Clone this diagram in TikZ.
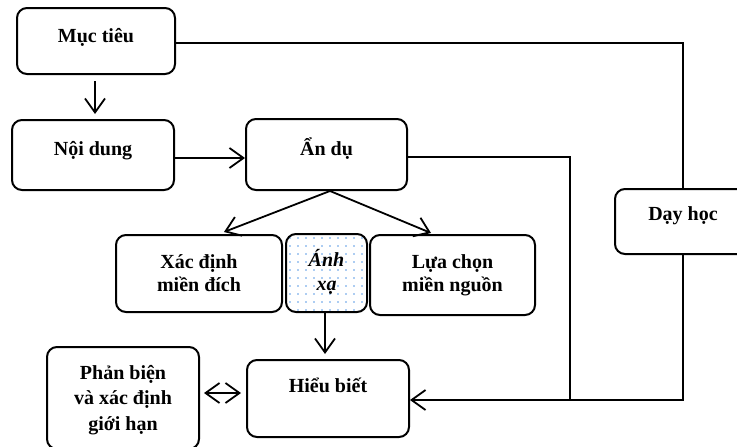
\documentclass[tikz,border=0pt]{standalone}
\usepackage{fontspec}
\setmainfont{Liberation Serif}
\usetikzlibrary{arrows.meta}
\definecolor{dotblue}{RGB}{90,155,230}
\tikzset{
  box/.style={draw=black, line width=2pt, rounded corners=10pt, fill=white, inner sep=0pt},
  lbl/.style={anchor=base, inner sep=0pt, font=\fontsize{20}{24}\selectfont\bfseries},
  conn/.style={draw=black, line width=1.8pt},
  barb/.tip={Straight Barb[length=14pt,width=20pt,line width=1.8pt]},
  arr/.style={conn, -barb},
  darr/.style={conn, barb-barb}
}
\begin{document}
\begin{tikzpicture}[x=1pt,y=-1pt]
\useasboundingbox (0,0) rectangle (737,447);
\fill[white] (0,0) rectangle (737,447);
\clip (0,0) rectangle (737,447);

% boxes
\node[box, minimum width=158pt, minimum height=66pt] (muctieu) at (96,41) {};
\node[box, minimum width=162pt, minimum height=70pt] (noidung) at (93,155) {};
\node[box, minimum width=161pt, minimum height=71pt] (andu) at (326.5,154.5) {};
\node[box, minimum width=136pt, minimum height=65pt] (dayhoc) at (683,221.5) {};
\node[box, minimum width=166pt, minimum height=77pt] (xacdinh) at (199,273.5) {};
\node[box, minimum width=165pt, minimum height=80pt] (luachon) at (452.5,275) {};
\node[box, minimum width=162pt, minimum height=77pt] (hieubiet) at (328,398.5) {};
\node[box, minimum width=152pt, minimum height=102pt] (phanbien) at (123,398) {};

% dotted mapping box
\node[box, draw=none, outer sep=0pt, minimum width=81pt, minimum height=78pt] (anhxa) at (326.5,273) {};
\begin{scope}
  \clip[rounded corners=10pt] (anhxa.south west) rectangle (anhxa.north east);
  \foreach \i in {0,...,10} {
    \foreach \j in {0,...,9} {
      \fill[dotblue] (290+8*\i, 238+8*\j) circle (0.85pt);
    }
  }
\end{scope}
\draw[line width=2pt, rounded corners=10pt] (anhxa.south west) rectangle (anhxa.north east);

% labels
\node[lbl] (t-muctieu) at (96,42) {Mục tiêu};
\node[lbl] (t-noidung) at (93,155) {Nội dung};
\node[lbl] (t-andu) at (326.5,155) {Ẩn dụ};
\node[lbl] (t-dayhoc) at (683,220) {Dạy học};
\node[lbl] (t-hieubiet) at (328,392) {Hiểu biết};
\node[lbl] (t-xacdinh) at (199,291) {\fontsize{20}{23}\selectfont\begin{tabular}[b]{@{}c@{}}Xác định\\miền đích\end{tabular}};
\node[lbl] (t-luachon) at (452.5,291) {\fontsize{20}{23}\selectfont\begin{tabular}[b]{@{}c@{}}Lựa chọn\\miền nguồn\end{tabular}};
\node[lbl] (t-anhxa) at (326.5,290) {\fontsize{20}{24}\selectfont\itshape\begin{tabular}[b]{@{}c@{}}Ánh\\xạ\end{tabular}};
\node[lbl] (t-phanbien) at (123,430) {\fontsize{20}{25.5}\selectfont\begin{tabular}[b]{@{}c@{}}Phản biện\\và xác định\\giới hạn\end{tabular}};

% connectors
\coordinate (tr) at (683,43);
\coordinate (jn) at (570,400);
\coordinate (jt) at (570,157);
\coordinate (db) at (683,400);
\draw[conn] (muctieu.east |- tr) -- (tr) -- (dayhoc.north);
\draw[arr, shorten <=6pt, shorten >=5pt] (muctieu.south -| 95,0) -- (noidung.north -| 95,0);
\draw[arr] (noidung.east |- 0,158) -- (andu.west |- 0,158);
\draw[conn] (andu.east |- jt) -- (jt) -- (jn);
\draw[conn] (dayhoc.south) -- (db) -- (jn);
\draw[arr] (jn) -- (hieubiet.east |- jn);
\coordinate (apex) at (330,190);
\coordinate (tipl) at (224,232);
\coordinate (tipr) at (431,233);
\draw[arr] (andu.south -| apex) -- (tipl);
\draw[arr] (andu.south -| apex) -- (tipr);
\draw[arr, shorten >=5pt] (anhxa.south -| 325,0) -- (hieubiet.north -| 325,0);
\draw[darr, shorten <=4pt, shorten >=5pt] (phanbien.east |- 0,393) -- (hieubiet.west |- 0,393);
\end{tikzpicture}
\end{document}
